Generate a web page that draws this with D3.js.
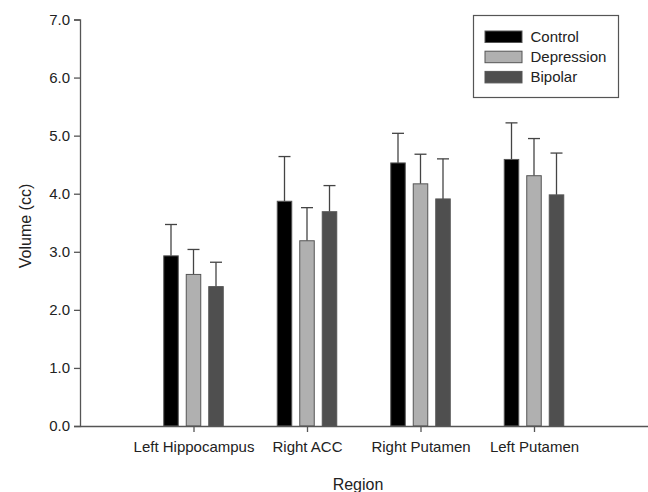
<!DOCTYPE html>
<html><head><meta charset="utf-8">
<script src="https://cdn.jsdelivr.net/npm/d3@7"></script>
<style>body{margin:0;background:#fff}svg{display:block}text{font-family:Arial,"Liberation Sans",sans-serif}</style>
</head><body><svg id="c" width="648" height="492"></svg>
<script>
const regions = ["Left Hippocampus", "Right ACC", "Right Putamen", "Left Putamen"];
const groups = ["Control", "Depression", "Bipolar"];
const controlMean = [2.93, 3.87, 4.53, 4.59];
const controlErr = [0.54, 0.77, 0.51, 0.63];
const depressionMean = [2.61, 3.19, 4.17, 4.31];
const depressionErr = [0.43, 0.57, 0.51, 0.64];
const bipolarMean = [2.40, 3.69, 3.91, 3.98];
const bipolarErr = [0.42, 0.45, 0.69, 0.72];
const yTicks = [0, 1, 2, 3, 4, 5, 6, 7];
const colors = ["#000000", "#b0b0b0", "#4f4f4f"];

const series = [
  {name: groups[0], mean: controlMean, err: controlErr, color: colors[0]},
  {name: groups[1], mean: depressionMean, err: depressionErr, color: colors[1]},
  {name: groups[2], mean: bipolarMean, err: bipolarErr, color: colors[2]}
];

const FF = "Arial, 'Liberation Sans', sans-serif";
const svg = d3.select("#c");
const x0 = 80, x1 = 647.5, yTop = 19.5, yBot = 426;
const x = d3.scaleLinear().domain([0, regions.length + 1]).range([x0, x1]);
const y = d3.scaleLinear().domain([0, 7]).range([yBot, yTop]);
const offset = d3.scaleLinear().domain([0, 2]).range([-22.5, 22.5]);
const barW = 14.5;
const axisColor = "#555";

// Y axis
const yAxis = svg.append("g").attr("transform", `translate(${x0},0)`)
  .call(d3.axisLeft(y).tickValues(yTicks).tickFormat(d3.format(".1f")).tickSize(6).tickPadding(4));
yAxis.attr("font-size", null).attr("font-family", null);
yAxis.select(".domain").attr("stroke", axisColor).attr("stroke-width", 1.3);
yAxis.selectAll(".tick line").attr("stroke", axisColor).attr("stroke-width", 1.3);
yAxis.selectAll(".tick text").style("font-size", "15px").attr("fill", "#222").style("font-family", FF);

// Bars
series.forEach((s, gi) => {
  const g = svg.append("g");
  regions.forEach((r, i) => {
    const cx = x(i + 1) + offset(gi);
    g.append("line").attr("x1", cx).attr("x2", cx)
      .attr("y1", y(s.mean[i])).attr("y2", y(s.mean[i] + s.err[i]))
      .attr("stroke", "#444").attr("stroke-width", 1.3);
    g.append("line").attr("x1", cx - 6).attr("x2", cx + 6)
      .attr("y1", y(s.mean[i] + s.err[i])).attr("y2", y(s.mean[i] + s.err[i]))
      .attr("stroke", "#444").attr("stroke-width", 1.3);
    g.append("rect").attr("x", cx - barW / 2).attr("width", barW)
      .attr("y", y(s.mean[i])).attr("height", y(0) - y(s.mean[i]))
      .attr("fill", s.color).attr("stroke", "#555").attr("stroke-width", 1);
  });
});

// X axis
const xAxis = svg.append("g").attr("transform", `translate(0,${yBot})`)
  .call(d3.axisBottom(x).tickValues(regions.map((r, i) => i + 1))
    .tickFormat((d) => regions[d - 1]).tickSize(6).tickSizeOuter(0).tickPadding(9));
xAxis.attr("font-size", null).attr("font-family", null);
xAxis.select(".domain").attr("stroke", axisColor).attr("stroke-width", 1.3);
xAxis.selectAll(".tick line").attr("stroke", axisColor).attr("stroke-width", 1.3);
xAxis.selectAll(".tick text").style("font-size", "15px").attr("fill", "#222").style("font-family", FF);

// Titles
svg.append("text").attr("x", 358).attr("y", 490).attr("text-anchor", "middle")
  .style("font-size", "16px").attr("fill", "#222").text("Region");
svg.append("text").attr("transform", "translate(31,226) rotate(-90)").attr("text-anchor", "middle")
  .style("font-size", "16px").attr("fill", "#222").text("Volume (cc)");

// Legend
const leg = svg.append("g");
leg.append("rect").attr("x", 473.5).attr("y", 15.5).attr("width", 145).attr("height", 82)
  .attr("fill", "#fff").attr("stroke", "#555").attr("stroke-width", 1.2);
series.forEach((s, i) => {
  const yy = 31 + i * 20.2;
  leg.append("rect").attr("x", 485).attr("y", yy).attr("width", 37).attr("height", 11.5)
    .attr("fill", s.color).attr("stroke", "#555").attr("stroke-width", 1);
  leg.append("text").attr("x", 530.5).attr("y", yy + 11).style("font-size", "15px")
    .attr("fill", "#222").text(s.name);
});
</script></body></html>
